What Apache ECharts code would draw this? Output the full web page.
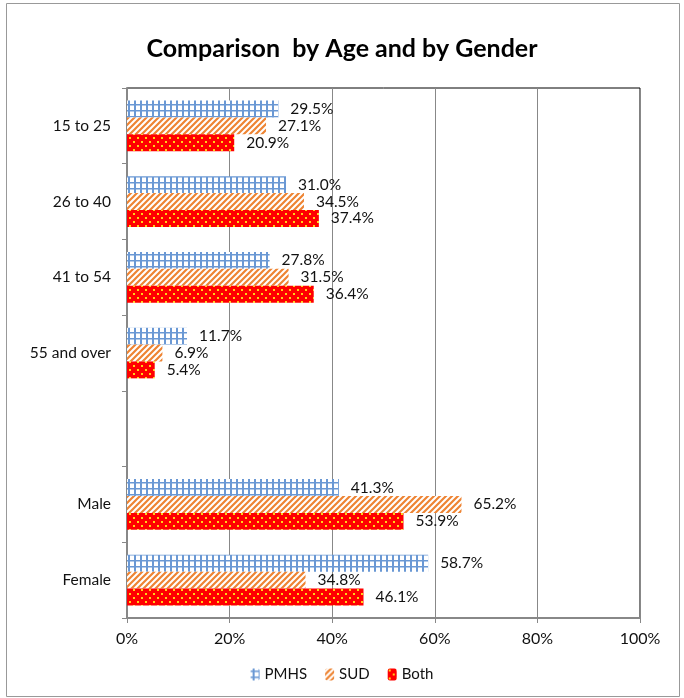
<!DOCTYPE html>
<html>
<head>
<meta charset="utf-8">
<script src="https://cdn.jsdelivr.net/npm/echarts@6/dist/echarts.min.js"></script>
<style>
  html, body { margin: 0; padding: 0; background: #fff; }
  #chart { width: 684px; height: 698px; }
</style>
</head>
<body>
<div id="chart"></div>
<script>
// categories, top to bottom (empty row separates age from gender)
var categories = ['15 to 25', '26 to 40', '41 to 54', '55 and over', '', 'Male', 'Female']
var pmhs = [29.5, 31.0, 27.8, 11.7, '-', 41.3, 58.7]
var sud = [27.1, 34.5, 31.5, 6.9, '-', 65.2, 34.8]
var both = [20.9, 37.4, 36.4, 5.4, '-', 53.9, 46.1]
var seriesNames = ['PMHS', 'SUD', 'Both']

// fill patterns like the excel ones
function makeTile(w, h, draw) {
  var c = document.createElement('canvas')
  c.width = w
  c.height = h
  draw(c.getContext('2d'))
  return c
}
var gridTile = makeTile(6, 6, function(ctx) {
  ctx.fillStyle = '#fff'
  ctx.fillRect(0, 0, 6, 6)
  ctx.fillStyle = '#6a98d4'
  ctx.fillRect(2, 0, 2, 6)
  ctx.fillRect(0, 2, 6, 1.5)
})
var stripeTile = makeTile(6, 6, function(ctx) {
  ctx.fillStyle = '#fff'
  ctx.fillRect(0, 0, 6, 6)
  ctx.strokeStyle = '#ee8433'
  ctx.lineWidth = 2.2
  ctx.beginPath()
  ctx.moveTo(-1, 7); ctx.lineTo(7, -1)
  ctx.moveTo(-4, 4); ctx.lineTo(4, -4)
  ctx.moveTo(2, 10); ctx.lineTo(10, 2)
  ctx.stroke()
})
var dotTile = makeTile(8, 8, function(ctx) {
  ctx.fillStyle = '#ff0000'
  ctx.fillRect(0, 0, 8, 8)
  ctx.fillStyle = '#ffd21a'
  ctx.fillRect(1, 1, 2, 2)
  ctx.fillRect(5, 5, 2, 2)
})

var labelStyle = {
  show: true,
  position: 'right',
  distance: 12,
  fontFamily: 'Lato',
  fontSize: 15.5,
  color: '#111',
  formatter: function(p) { return p.value.toFixed(1) + '%' }
}

function barSeries(name, data, tile) {
  return {
    name: name,
    type: 'bar',
    data: data,
    barGap: 0,
    barCategoryGap: '33%',
    itemStyle: { color: { image: tile, repeat: 'repeat' } },
    label: labelStyle
  }
}

var chart = echarts.init(document.getElementById('chart'))
chart.setOption({
  animation: false,
  title: {
    text: 'Comparison  by Age and by Gender',
    left: 'center',
    top: 31,
    textStyle: { fontFamily: 'Lato', fontSize: 25, fontWeight: 'bold', color: '#000' }
  },
  graphic: [{
    type: 'rect',
    shape: { x: 6.5, y: 3.5, width: 673, height: 693 },
    style: { fill: 'none', stroke: '#999', lineWidth: 1 },
    silent: true
  }],
  legend: {
    data: seriesNames,
    bottom: 11,
    left: 'center',
    itemWidth: 9,
    itemHeight: 12,
    itemGap: 18,
    textStyle: { fontFamily: 'Lato', fontSize: 15, color: '#111' }
  },
  grid: {
    left: 127,
    right: 44,
    top: 88,
    bottom: 80,
    show: true,
    borderColor: '#000',
    borderWidth: 1
  },
  xAxis: {
    type: 'value',
    min: 0,
    max: 100,
    interval: 20,
    axisLine: { show: true, lineStyle: { color: '#888', width: 2 } },
    axisTick: { show: true, length: 5, lineStyle: { color: '#888' } },
    splitLine: { lineStyle: { color: '#888', width: 1 } },
    axisLabel: { formatter: '{value}%', margin: 13, fontFamily: 'Lato', fontSize: 16, color: '#111' }
  },
  yAxis: {
    type: 'category',
    inverse: true,
    data: categories,
    axisLine: { lineStyle: { color: '#888', width: 2 } },
    axisTick: { show: true, length: 5, lineStyle: { color: '#888' } },
    axisLabel: { margin: 16, fontFamily: 'Lato', fontSize: 15.5, color: '#111' }
  },
  series: [
    barSeries('PMHS', pmhs, gridTile),
    barSeries('SUD', sud, stripeTile),
    barSeries('Both', both, dotTile)
  ]
})
</script>
</body>
</html>
